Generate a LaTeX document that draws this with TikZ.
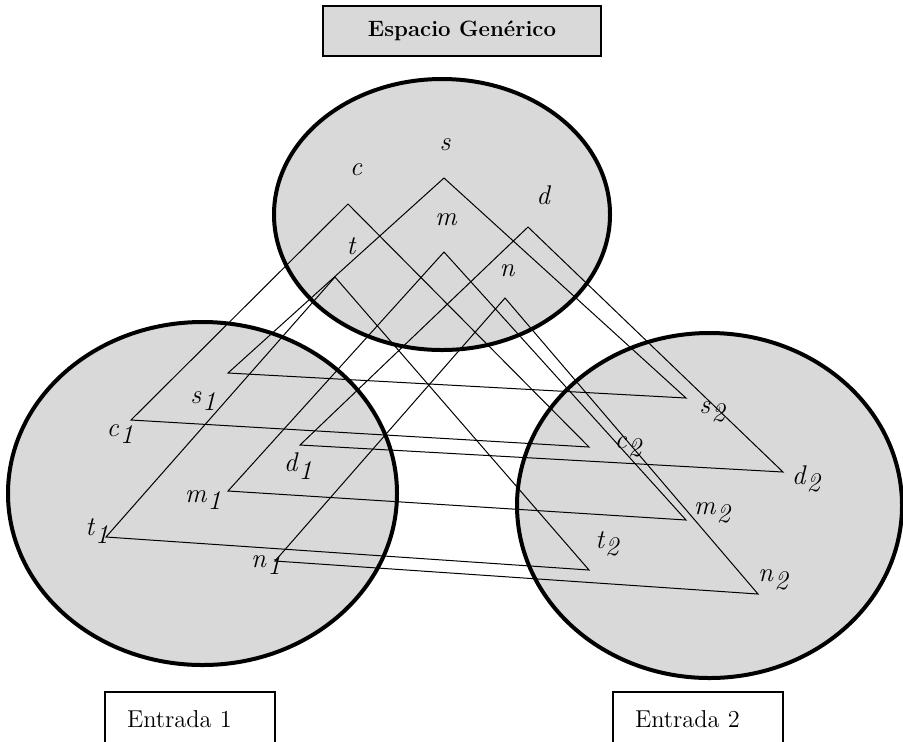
\documentclass[tikz,border=0pt]{standalone}
\usepackage{tikz}
\usepackage{amsmath}
\usetikzlibrary{shapes.geometric}

\definecolor{espgris}{RGB}{217,217,217}
\newcommand{\elm}[2]{\textit{#1}\kern0.6pt\raisebox{-3.8pt}{\textit{#2}}}

\tikzset{
	espacio/.style={ellipse, draw, line width=2pt, fill=espgris, inner sep=0pt},
	etiq/.style={inner sep=0pt, font=\fontsize{13.5}{15}\selectfont\itshape},
	enlace/.style={line width=0.5pt},
	titulo/.style={rectangle, draw, line width=1.1pt, fill=espgris, minimum width=139pt, minimum height=25pt, font=\fontsize{11.1}{13}\selectfont\bfseries},
	entrada/.style={rectangle, draw, line width=1pt, text width=63pt, align=left, inner xsep=11pt, minimum height=27pt, font=\fontsize{12.2}{14}\selectfont}
}

\begin{document}
\begin{tikzpicture}[x=0.5pt, y=-0.5pt]
	\useasboundingbox (0,0) rectangle (903,741);

	\node[titulo] (gen) at (462,31) {Espacio Genérico};

	\node[espacio, minimum width=168pt, minimum height=135.5pt] (eg) at (442,214.5) {};
	\node[espacio, minimum width=194.5pt, minimum height=171.5pt] (e1) at (202.5,493.5) {};
	\node[espacio, minimum width=192.5pt, minimum height=172.5pt] (e2) at (709.5,505.5) {};

	\node[entrada] (ent1) at (190,719) {Entrada 1};
	\node[entrada] (ent2) at (698,719) {Entrada 2};

	% vertices
	\coordinate (c) at (348,204);  \coordinate (c1) at (131,420); \coordinate (c2) at (589,447);
	\coordinate (s) at (444,178);  \coordinate (s1) at (228,373); \coordinate (s2) at (686,398);
	\coordinate (d) at (528,227);  \coordinate (d1) at (300,445); \coordinate (d2) at (783,472);
	\coordinate (t) at (335,277);  \coordinate (t1) at (106,537); \coordinate (t2) at (589,570);
	\coordinate (m) at (444,252);  \coordinate (m1) at (228,491); \coordinate (m2) at (686,520);
	\coordinate (n) at (505,298);  \coordinate (n1) at (275,561); \coordinate (n2) at (758,594);

	\draw[enlace] (c) -- (c1) -- (c2) -- cycle;
	\draw[enlace] (s) -- (s1) -- (s2) -- cycle;
	\draw[enlace] (d) -- (d1) -- (d2) -- cycle;
	\draw[enlace] (t) -- (t1) -- (t2) -- cycle;
	\draw[enlace] (m) -- (m1) -- (m2) -- cycle;
	\draw[enlace] (n) -- (n1) -- (n2) -- cycle;

	% labels
	\node[etiq] (lc) at (356,170) {c};
	\node[etiq] (ls) at (445,145) {s};
	\node[etiq] (ld) at (543,195) {d};
	\node[etiq] (lm) at (446,220) {m};
	\node[etiq] (lt) at (351,246) {t};
	\node[etiq] (ln) at (507,271) {n};

	\node[etiq] (ls1) at (203,401) {\elm{s}{1}};
	\node[etiq] (lc1) at (120,434) {\elm{c}{1}};
	\node[etiq] (ld1) at (298,466) {\elm{d}{1}};
	\node[etiq] (lm1) at (203,500) {\elm{m}{1}};
	\node[etiq] (lt1) at (97,531) {\elm{t}{1}};
	\node[etiq] (ln1) at (266,565) {\elm{n}{1}};

	\node[etiq] (ls2) at (712,412) {\elm{s}{2}};
	\node[etiq] (lc2) at (628,447) {\elm{c}{2}};
	\node[etiq] (ld2) at (806,479) {\elm{d}{2}};
	\node[etiq] (lm2) at (712,513) {\elm{m}{2}};
	\node[etiq] (lt2) at (607,544) {\elm{t}{2}};
	\node[etiq] (ln2) at (773,580) {\elm{n}{2}};
\end{tikzpicture}
\end{document}
